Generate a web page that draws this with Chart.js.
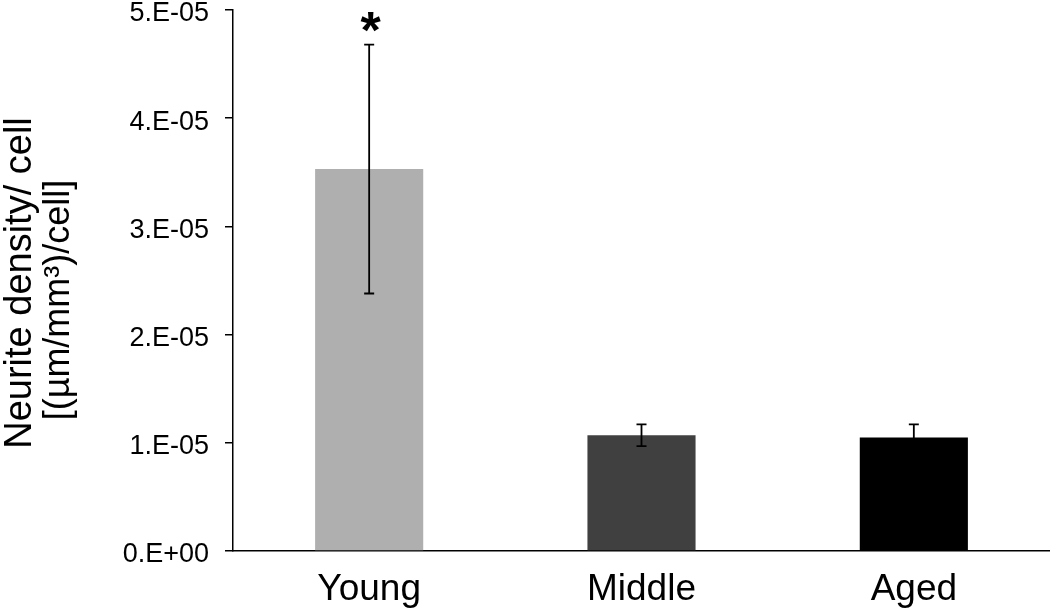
<!DOCTYPE html>
<html>
<head>
<meta charset="utf-8">
<script src="https://cdn.jsdelivr.net/npm/chart.js@4.4.1/dist/chart.umd.min.js"></script>
<style>
  html, body { margin: 0; padding: 0; background: #fff; }
  #wrap { width: 1050px; height: 610px; }
</style>
</head>
<body>
<div id="wrap"><canvas id="myChart" width="1050" height="610"></canvas></div>
<script>
// данные
const categories = ['Young', 'Middle', 'Aged'];
const means = [3.53e-5, 1.07e-5, 1.05e-5];
const errors = [1.15e-5, 0.10e-5, 0.12e-5];
const marks = ['*', '', ''];
const yTicks = [0, 1e-5, 2e-5, 3e-5, 4e-5, 5e-5];
const titleLines = ['Neurite density/ cell', '[(\u00b5m/mm\u00b3)/cell]'];

const FONT = '"Liberation Sans", Arial, sans-serif';

// формат как в Excel: 5.E-05
function sciLabel(v) {
    let parts = v.toExponential(0).split('e');
    let exp = parseInt(parts[1], 10);
    return parts[0] + '.E' + (exp < 0 ? '-' : '+') + String(Math.abs(exp)).padStart(2, '0');
}

const errorBars = {
    id: 'errorBars',
    afterDatasetsDraw(chart) {
        const ctx = chart.ctx;
        const y = chart.scales.y;
        const meta = chart.getDatasetMeta(0);
        ctx.save();
        ctx.strokeStyle = '#000';
        ctx.lineWidth = 1.8;
        meta.data.forEach((bar, i) => {
            let x = bar.x;
            let top = y.getPixelForValue(means[i] + errors[i]);
            let bot = y.getPixelForValue(means[i] - errors[i]);
            ctx.beginPath();
            ctx.moveTo(x, top); ctx.lineTo(x, bot);
            ctx.moveTo(x - 5, top); ctx.lineTo(x + 5, top);
            ctx.moveTo(x - 5, bot); ctx.lineTo(x + 5, bot);
            ctx.stroke();
            if (marks[i]) {
                ctx.fillStyle = '#000';
                ctx.font = 'bold 52px ' + FONT;
                ctx.textAlign = 'center';
                ctx.textBaseline = 'alphabetic';
                let m = ctx.measureText(marks[i]);
                let cy = top - 22.5;
                ctx.fillText(marks[i], x + 1.5, cy + (m.actualBoundingBoxAscent - m.actualBoundingBoxDescent) / 2);
            }
        });
        ctx.restore();
    }
};

const yTitle = {
    id: 'yTitle',
    afterDraw(chart) {
        const ctx = chart.ctx;
        ctx.save();
        ctx.fillStyle = '#000';
        ctx.textAlign = 'center';
        ctx.textBaseline = 'alphabetic';
        ctx.font = '38px ' + FONT;
        ctx.translate(31, 283);
        ctx.rotate(-Math.PI / 2);
        ctx.fillText(titleLines[0], 0, 0);
        ctx.restore();
        ctx.save();
        ctx.fillStyle = '#000';
        ctx.textAlign = 'center';
        ctx.textBaseline = 'alphabetic';
        ctx.font = '36px ' + FONT;
        ctx.translate(69, 300);
        ctx.rotate(-Math.PI / 2);
        ctx.fillText(titleLines[1], 0, 0);
        ctx.restore();
    }
};

const ctx = document.getElementById('myChart').getContext('2d');
const myChart = new Chart(ctx, {
    type: 'bar',
    data: {
        labels: categories,
        datasets: [{
            data: means,
            backgroundColor: ['#afafaf', '#404040', '#000000'],
            borderWidth: 0,
            categoryPercentage: 1.0,
            barPercentage: 0.397
        }]
    },
    options: {
        responsive: false,
        animation: false,
        layout: { padding: { top: 10, left: 0, right: 0, bottom: 0 } },
        plugins: {
            legend: { display: false },
            tooltip: { enabled: false }
        },
        scales: {
            x: {
                grid: { display: false },
                border: { display: true, color: '#000', width: 1.5 },
                ticks: {
                    color: '#000',
                    padding: 9,
                    font: { family: FONT, size: 37 }
                },
                afterFit(scale) {
                    scale.height = 59;
                    scale.paddingLeft = 0;
                    scale.paddingRight = 0;
                }
            },
            y: {
                min: 0,
                max: 5e-5,
                afterBuildTicks(scale) {
                    scale.ticks = yTicks.map(v => ({ value: v }));
                },
                grid: {
                    drawOnChartArea: false,
                    drawTicks: true,
                    tickLength: 8,
                    color: '#000',
                    lineWidth: 1.5
                },
                border: { display: true, color: '#000', width: 1.5 },
                ticks: {
                    color: '#000',
                    padding: 16,
                    labelOffset: 4,
                    font: { family: FONT, size: 27 },
                    callback: (v) => sciLabel(v)
                },
                afterFit(scale) {
                    scale.width = 233;
                    scale.paddingTop = 0;
                    scale.paddingBottom = 0;
                }
            }
        }
    },
    plugins: [errorBars, yTitle]
});
</script>
</body>
</html>
